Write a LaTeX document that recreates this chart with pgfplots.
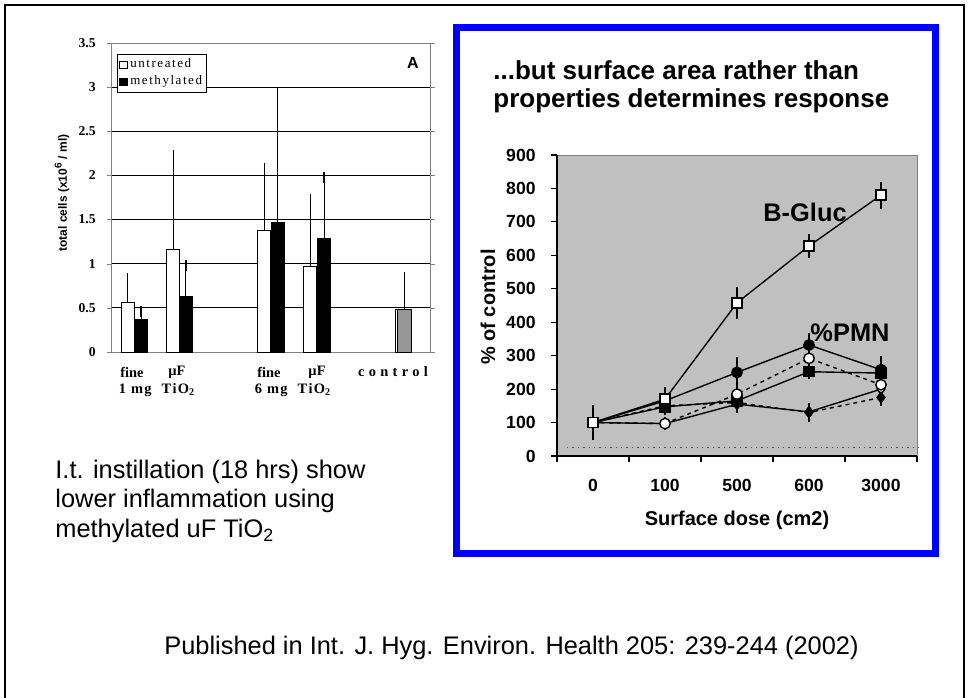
\documentclass[border=0pt]{standalone}
\usepackage{fontspec}
\setmainfont{Liberation Sans}
\newfontfamily\serif{Liberation Serif}
\usepackage{pgfplots}
\pgfplotsset{compat=1.18}
\definecolor{frameblue}{HTML}{0000FF}
\definecolor{plotgray}{HTML}{C0C0C0}
\definecolor{ctrlgray}{HTML}{969696}

\begin{document}
\begin{tikzpicture}
\path[use as bounding box] (0,0) rectangle (484.5pt,-348.5pt);

% slide frame and blue box (pixel coordinates, y down)
\begin{scope}[x=0.5pt, y=-0.5pt]
\draw[line width=1pt] (5,700) -- (5,5) -- (964,5) -- (964,700);
\draw[frameblue, line width=3.5pt] (456.5,27.5) rectangle (935.5,553.5);
\end{scope}

% left: total cells bar chart
\begin{axis}[
  at={(55.5pt,-176pt)}, anchor=south west,
  width=160pt, height=154.5pt, scale only axis,
  xmin=0, xmax=7, ymin=0, ymax=3.5,
  ytick={0,0.5,...,3.5}, xtick=\empty,
  ymajorgrids, grid style={black, line width=0.5pt},
  axis line style={draw=gray, line width=0.5pt},
  tick align=outside, major tick length=2pt, ytick style={draw=gray},
  yticklabel style={font=\serif\bfseries\fontsize{6.8}{7}\selectfont, inner sep=0pt, xshift=-5.5pt},
  /pgf/number format/assume math mode=true,
  ybar, bar width=0.29, bar shift=0pt,
  error bars/y dir=plus, error bars/y explicit,
  error bars/error bar style={black, line width=0.5pt},
  error bars/error mark options={black, line width=0.6pt, mark size=2.8pt},
  legend style={at={(0.019,0.964)}, anchor=north west, draw=black, fill=white,
    font=\serif\fontsize{6.5}{7}\selectfont\addfontfeature{LetterSpace=12}, inner sep=1pt, row sep=0pt,
    nodes={inner sep=1.2pt}},
  legend cell align=left,
  legend image code/.code={\draw[#1, draw=black, line width=0.4pt] (0pt,-1.9pt) rectangle (3.8pt,1.9pt);},
]
\addplot[fill=white, draw=black, line width=0.5pt] coordinates {
  (0.365,0.563) +- (0,0.267)
  (1.36,1.164)  +- (0,1.056)
  (3.35,1.38)   +- (0,0.70)
  (4.36,0.967)  +- (0,0.763)
};
\addplot[fill=black, draw=black, line width=0.5pt] coordinates {
  (0.657,0.363) +- (0,0.094)
  (1.64,0.627)  +- (0,0.353)
  (3.65,1.47)   +- (0,1.47)
  (4.66,1.29)   +- (0,0.69)
};
\legend{untreated, methylated}
\addplot[fill=white, draw=black, line width=0.5pt, forget plot] coordinates {(6.36,0.476)};
\addplot[fill=ctrlgray, draw=black, line width=0.5pt, forget plot] coordinates {(6.42,0.476) +- (0,0.367)};
\end{axis}

% right: % of control line chart
\begin{axis}[
  at={(278.5pt,-228pt)}, anchor=south west,
  width=180pt, height=150.5pt, scale only axis,
  xmin=0.5, xmax=5.5, ymin=0, ymax=900,
  ytick={0,100,...,900},
  xtick={0.5,1.5,...,5.5}, xticklabels={},
  extra x ticks={1,2,3,4,5}, extra x tick labels={0,100,500,600,3000},
  extra x tick style={major tick length=0pt},
  axis lines*=left, axis line style={line width=0.6pt},
  axis background/.style={fill=plotgray, draw=gray},
  tick align=outside, major tick length=3pt, tick style={black, line width=0.6pt},
  ticklabel style={font=\bfseries\fontsize{8.8}{9.5}\selectfont},
  yticklabel style={anchor=east, inner sep=0pt, xshift=-7.5pt},
  xticklabel style={anchor=center, yshift=-14.5pt},
  /pgf/number format/assume math mode=true,
  clip=false,
  error bars/y dir=both, error bars/y explicit,
  error bars/error bar style={black, line width=0.6pt},
  error bars/error mark options={black, line width=0.6pt, mark size=2.5pt},
  every axis plot/.append style={black, line width=0.7pt},
]
\addplot[dotted, line width=0.5pt, forget plot, black!70] coordinates {(0.64,24) (5.58,24)};
% open diamond, solid
\addplot[mark=diamond*, mark size=2.6pt, mark options={fill=white, solid}] coordinates {
  (1,100) +- (0,30) (2,97) +- (0,5) (3,155) +- (0,10) (4,132) +- (0,12) (5,200) +- (0,10)
};
% filled diamond, dashed
\addplot[dashed, dash pattern=on 2pt off 2pt, mark=diamond*, mark size=2.6pt, mark options={fill=black, solid}] coordinates {
  (1,100) +- (0,20) (2,150) +- (0,5) (3,160) +- (0,10) (4,130) +- (0,12) (5,175) +- (0,10)
};
% filled square, solid
\addplot[mark=square*, mark size=2.5pt, mark options={fill=black}] coordinates {
  (1,100) +- (0,25) (2,147) +- (0,10) (3,165) +- (0,10) (4,252) +- (0,8) (5,248) +- (0,20)
};
% open circle, dashed
\addplot[dashed, dash pattern=on 2pt off 2pt, mark=*, mark size=2.6pt, mark options={fill=white, solid}] coordinates {
  (1,100) +- (0,30) (2,97) +- (0,5) (3,185) +- (0,28) (4,292) +- (0,10) (5,213) +- (0,10)
};
% filled circle, solid
\addplot[mark=*, mark size=2.6pt, mark options={fill=black}] coordinates {
  (1,100) +- (0,38) (2,165) +- (0,10) (3,250) +- (0,30) (4,332) +- (0,22) (5,258) +- (0,25)
};
% B-Gluc, open square
\addplot[mark=square*, mark size=2.5pt, mark options={fill=white}] coordinates {
  (1,100) +- (0,20) (2,170) +- (0,22) (3,458) +- (0,32) (4,628) +- (0,20) (5,780) +- (0,25)
};
\end{axis}

% texts (pixel coordinates, y down)
\begin{scope}[x=0.5pt, y=-0.5pt]
\node[anchor=base west, font=\bfseries\fontsize{13}{15}\selectfont, inner sep=0pt] at (493,79) {...but surface area rather than};
\node[anchor=base west, font=\bfseries\fontsize{13}{15}\selectfont, inner sep=0pt] at (493,107) {properties determines response};
\node[rotate=90, font=\bfseries\fontsize{10}{12}\selectfont] at (488,307) {\% of control};
\node[font=\bfseries\fontsize{10}{12}\selectfont] at (737,520) {Surface dose (cm2)};
\node[font=\bfseries\fontsize{12.7}{14}\selectfont] at (805,212) {B-Gluc};
\node[font=\bfseries\fontsize{12.7}{14}\selectfont] at (850,333) {\%PMN};

\node[font=\bfseries\fontsize{8}{9}\selectfont] at (413,63) {A};
\node[rotate=90, font=\bfseries\fontsize{6}{7}\selectfont] at (62,193) {total cells (x10\textsuperscript{6} / ml)};
\begin{scope}[every node/.style={font=\serif\bfseries\fontsize{7.2}{8}\selectfont, inner sep=0pt}]
\node at (132,372) {fine};
\node at (177,372) {µF};
\node at (157,390) {\addfontfeature{LetterSpace=10}1 mg\ \ TiO\textsubscript{2}};
\node at (269,372) {fine};
\node at (317,372) {µF};
\node at (293,390) {\addfontfeature{LetterSpace=10}6 mg\ \ TiO\textsubscript{2}};
\node at (393,372) {\addfontfeature{LetterSpace=30}control};
\end{scope}

\begin{scope}[every node/.style={anchor=base west, font=\fontsize{12.7}{15}\selectfont, inner sep=0pt}]
\node at (55,478) {I.t. instillation (18 hrs) show};
\node at (55,507) {lower inflammation using};
\node at (55,537) {methylated uF TiO\textsubscript{2}};
\node at (164,654) {Published in Int. J. Hyg. Environ. Health 205: 239-244 (2002)};
\end{scope}
\end{scope}
\end{tikzpicture}
\end{document}
